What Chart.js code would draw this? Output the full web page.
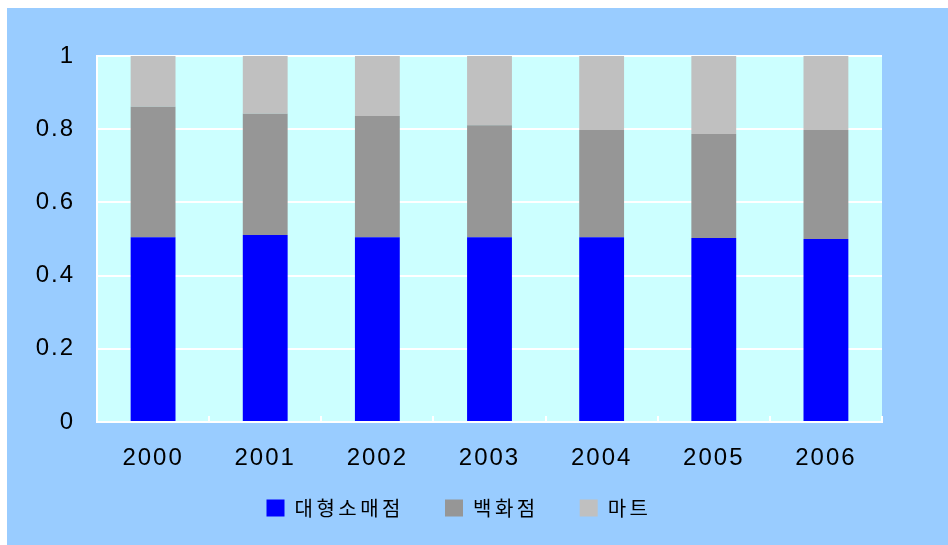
<!DOCTYPE html>
<html>
<head>
<meta charset="utf-8">
<script src="https://cdn.jsdelivr.net/npm/chart.js@4/dist/chart.umd.min.js"></script>
<style>
  html, body { margin: 0; padding: 0; background: #ffffff; }
  canvas { display: block; }
</style>
</head>
<body>
<canvas id="c" width="948" height="545"></canvas>
<script>
const categories = ['2000', '2001', '2002', '2003', '2004', '2005', '2006'];
const seriesNames = ['대형소매점', '백화점', '마트'];
const largeRetail = [0.505, 0.511, 0.505, 0.505, 0.505, 0.503, 0.500];
const deptStore   = [0.356, 0.331, 0.331, 0.306, 0.293, 0.284, 0.298];
const mart        = [0.139, 0.158, 0.164, 0.189, 0.202, 0.213, 0.202];
const yTickLabels = ['0', '0.2', '0.4', '0.6', '0.8', '1'];

const LEGEND_PAD = 41;
const LEGEND_HEIGHT = 50;
const LEGEND_SHIFT = 30.5;
const LEGEND_DX = 4;

const bgPlugin = {
  id: 'bgPlugin',
  beforeLayout(chart) {
    chart.ctx.letterSpacing = '2px';
    const lg = chart.legend;
    if (lg && !lg._patched) {
      const origFit = lg.fit.bind(lg);
      lg.fit = function () {
        const prev = this.ctx.letterSpacing;
        this.ctx.letterSpacing = '3.5px';
        origFit();
        this.ctx.letterSpacing = prev;
        this.height = LEGEND_HEIGHT;
      };
      const origDraw = lg.draw.bind(lg);
      lg.draw = function () {
        const prev = this.ctx.letterSpacing;
        this.ctx.letterSpacing = '3.5px';
        const t = this.top, l = this.left, r = this.right;
        this.top = t - LEGEND_SHIFT;
        this.left = l + LEGEND_DX;
        this.right = r + LEGEND_DX;
        origDraw();
        this.top = t; this.left = l; this.right = r;
        this.ctx.letterSpacing = prev;
      };
      lg._patched = true;
    }
  },
  beforeDraw(chart) {
    const ctx = chart.ctx;
    ctx.save();
    ctx.fillStyle = '#ffffff';
    ctx.fillRect(0, 0, chart.width, chart.height);
    ctx.fillStyle = '#99CCFF';
    ctx.fillRect(7, 8, chart.width - 7, chart.height - 8);
    const a = chart.chartArea;
    ctx.fillStyle = '#CCFFFF';
    ctx.fillRect(a.left, a.top, a.right - a.left, a.bottom - a.top);
    ctx.restore();
    ctx.letterSpacing = '2px';
  }
};

new Chart(document.getElementById('c'), {
  type: 'bar',
  data: {
    labels: categories,
    datasets: [
      { label: seriesNames[0], data: largeRetail, backgroundColor: '#0000FF' },
      { label: seriesNames[1], data: deptStore, backgroundColor: '#969696' },
      { label: seriesNames[2], data: mart, backgroundColor: '#C0C0C0' }
    ]
  },
  options: {
    responsive: false,
    animation: false,
    layout: { padding: { left: 28, right: 66, top: 56, bottom: 7.5 } },
    datasets: { bar: { barPercentage: 0.4, categoryPercentage: 1.0, borderWidth: 0 } },
    scales: {
      x: {
        stacked: true,
        grid: { display: true, drawOnChartArea: false, drawTicks: true, tickLength: -6, color: '#ffffff', lineWidth: 2 },
        border: { display: true, color: '#ffffff', width: 2 },
        ticks: { color: '#000000', padding: 28, font: { family: '"Liberation Sans", Arial, sans-serif', size: 24 } },
        afterFit(scale) { scale.height = 65.5; }
      },
      y: {
        stacked: true,
        min: 0,
        max: 1,
        grid: { color: '#ffffff', lineWidth: 2, drawTicks: false },
        border: { display: true, color: '#ffffff', width: 2 },
        ticks: {
          stepSize: 0.2,
          padding: 22,
          color: '#000000',
          font: { family: '"Liberation Sans", Arial, sans-serif', size: 24 },
          callback: (v, i) => yTickLabels[i]
        },
        afterFit(scale) { scale.width = 69; }
      }
    },
    plugins: {
      legend: {
        position: 'bottom',
        labels: {
          boxWidth: 18,
          boxHeight: 17,
          padding: LEGEND_PAD,
          color: '#000000',
          font: { family: '"Noto Sans CJK KR", sans-serif', size: 20 }
        }
      },
      tooltip: { enabled: false }
    }
  },
  plugins: [bgPlugin]
});
</script>
</body>
</html>
